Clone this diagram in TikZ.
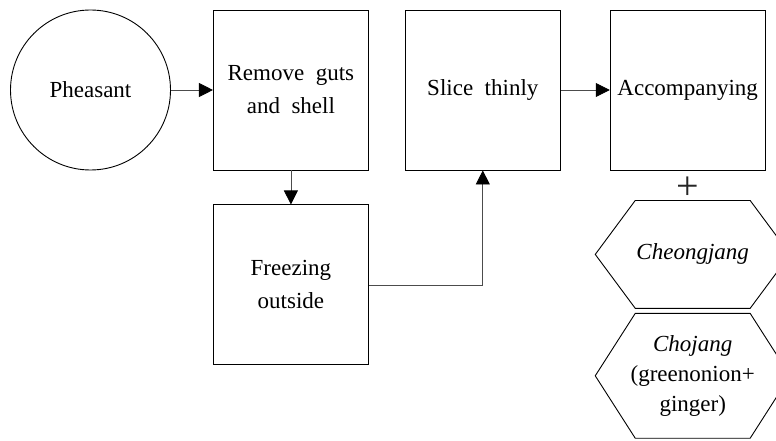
\documentclass[tikz,border=0pt]{standalone}
\usepackage{fontspec}
\setmainfont[WordSpace=2]{Liberation Serif}
\usetikzlibrary{arrows.meta,positioning}
\tikzset{
  base/.style={draw=black,line width=0.9pt,align=center,inner sep=2pt,font=\fontsize{23}{33}\selectfont},
  circ/.style={base,circle,minimum size=160pt},
  box/.style={base,rectangle,minimum width=155pt,minimum height=160pt},
  hexa/.style={base,draw=none,minimum width=194pt,font=\fontsize{23}{30}\selectfont},
  ar/.style={-{Triangle[length=14pt,width=14pt,color=black]},line width=0.8pt,draw=black!70},
}
\begin{document}
\begin{tikzpicture}[x=1pt,y=1pt]
\clip (0,0) rectangle (776,440);
\node[circ] (ph) at (90.5,350) {Pheasant};
\node[box,right=42pt of ph] (rm) {Remove guts\\and shell};
\node[box,right=36pt of rm] (sl) {Slice thinly};
\node[box,right=49pt of sl] (ac) {Accompanying};
\node[box,below=34pt of rm] (fr) {Freezing\\outside};
\node[font=\fontsize{40}{40}\selectfont,text=black!85,inner sep=0pt] (pl) at ([yshift=-18pt]ac.south) {+};
\node[hexa,minimum height=107pt,below=30pt of ac,xshift=5pt] (cj) {\textit{Cheongjang}};
\node[hexa,minimum height=124pt,below=5pt of cj] (ch) {\textit{Chojang}\\(greenonion+\\ginger)};
% hexagon outlines
\foreach \h in {cj,ch}
  \draw[line width=0.9pt] (\h.west) -- ([xshift=40pt]\h.north west) -- ([xshift=-40pt]\h.north east)
    -- (\h.east) -- ([xshift=-40pt]\h.south east) -- ([xshift=40pt]\h.south west) -- cycle;
\draw[ar] (ph) -- (rm);
\draw[ar] (rm) -- (fr);
\draw[ar] (fr.east) -| (sl.south);
\draw[ar] (sl) -- (ac);
\end{tikzpicture}
\end{document}
